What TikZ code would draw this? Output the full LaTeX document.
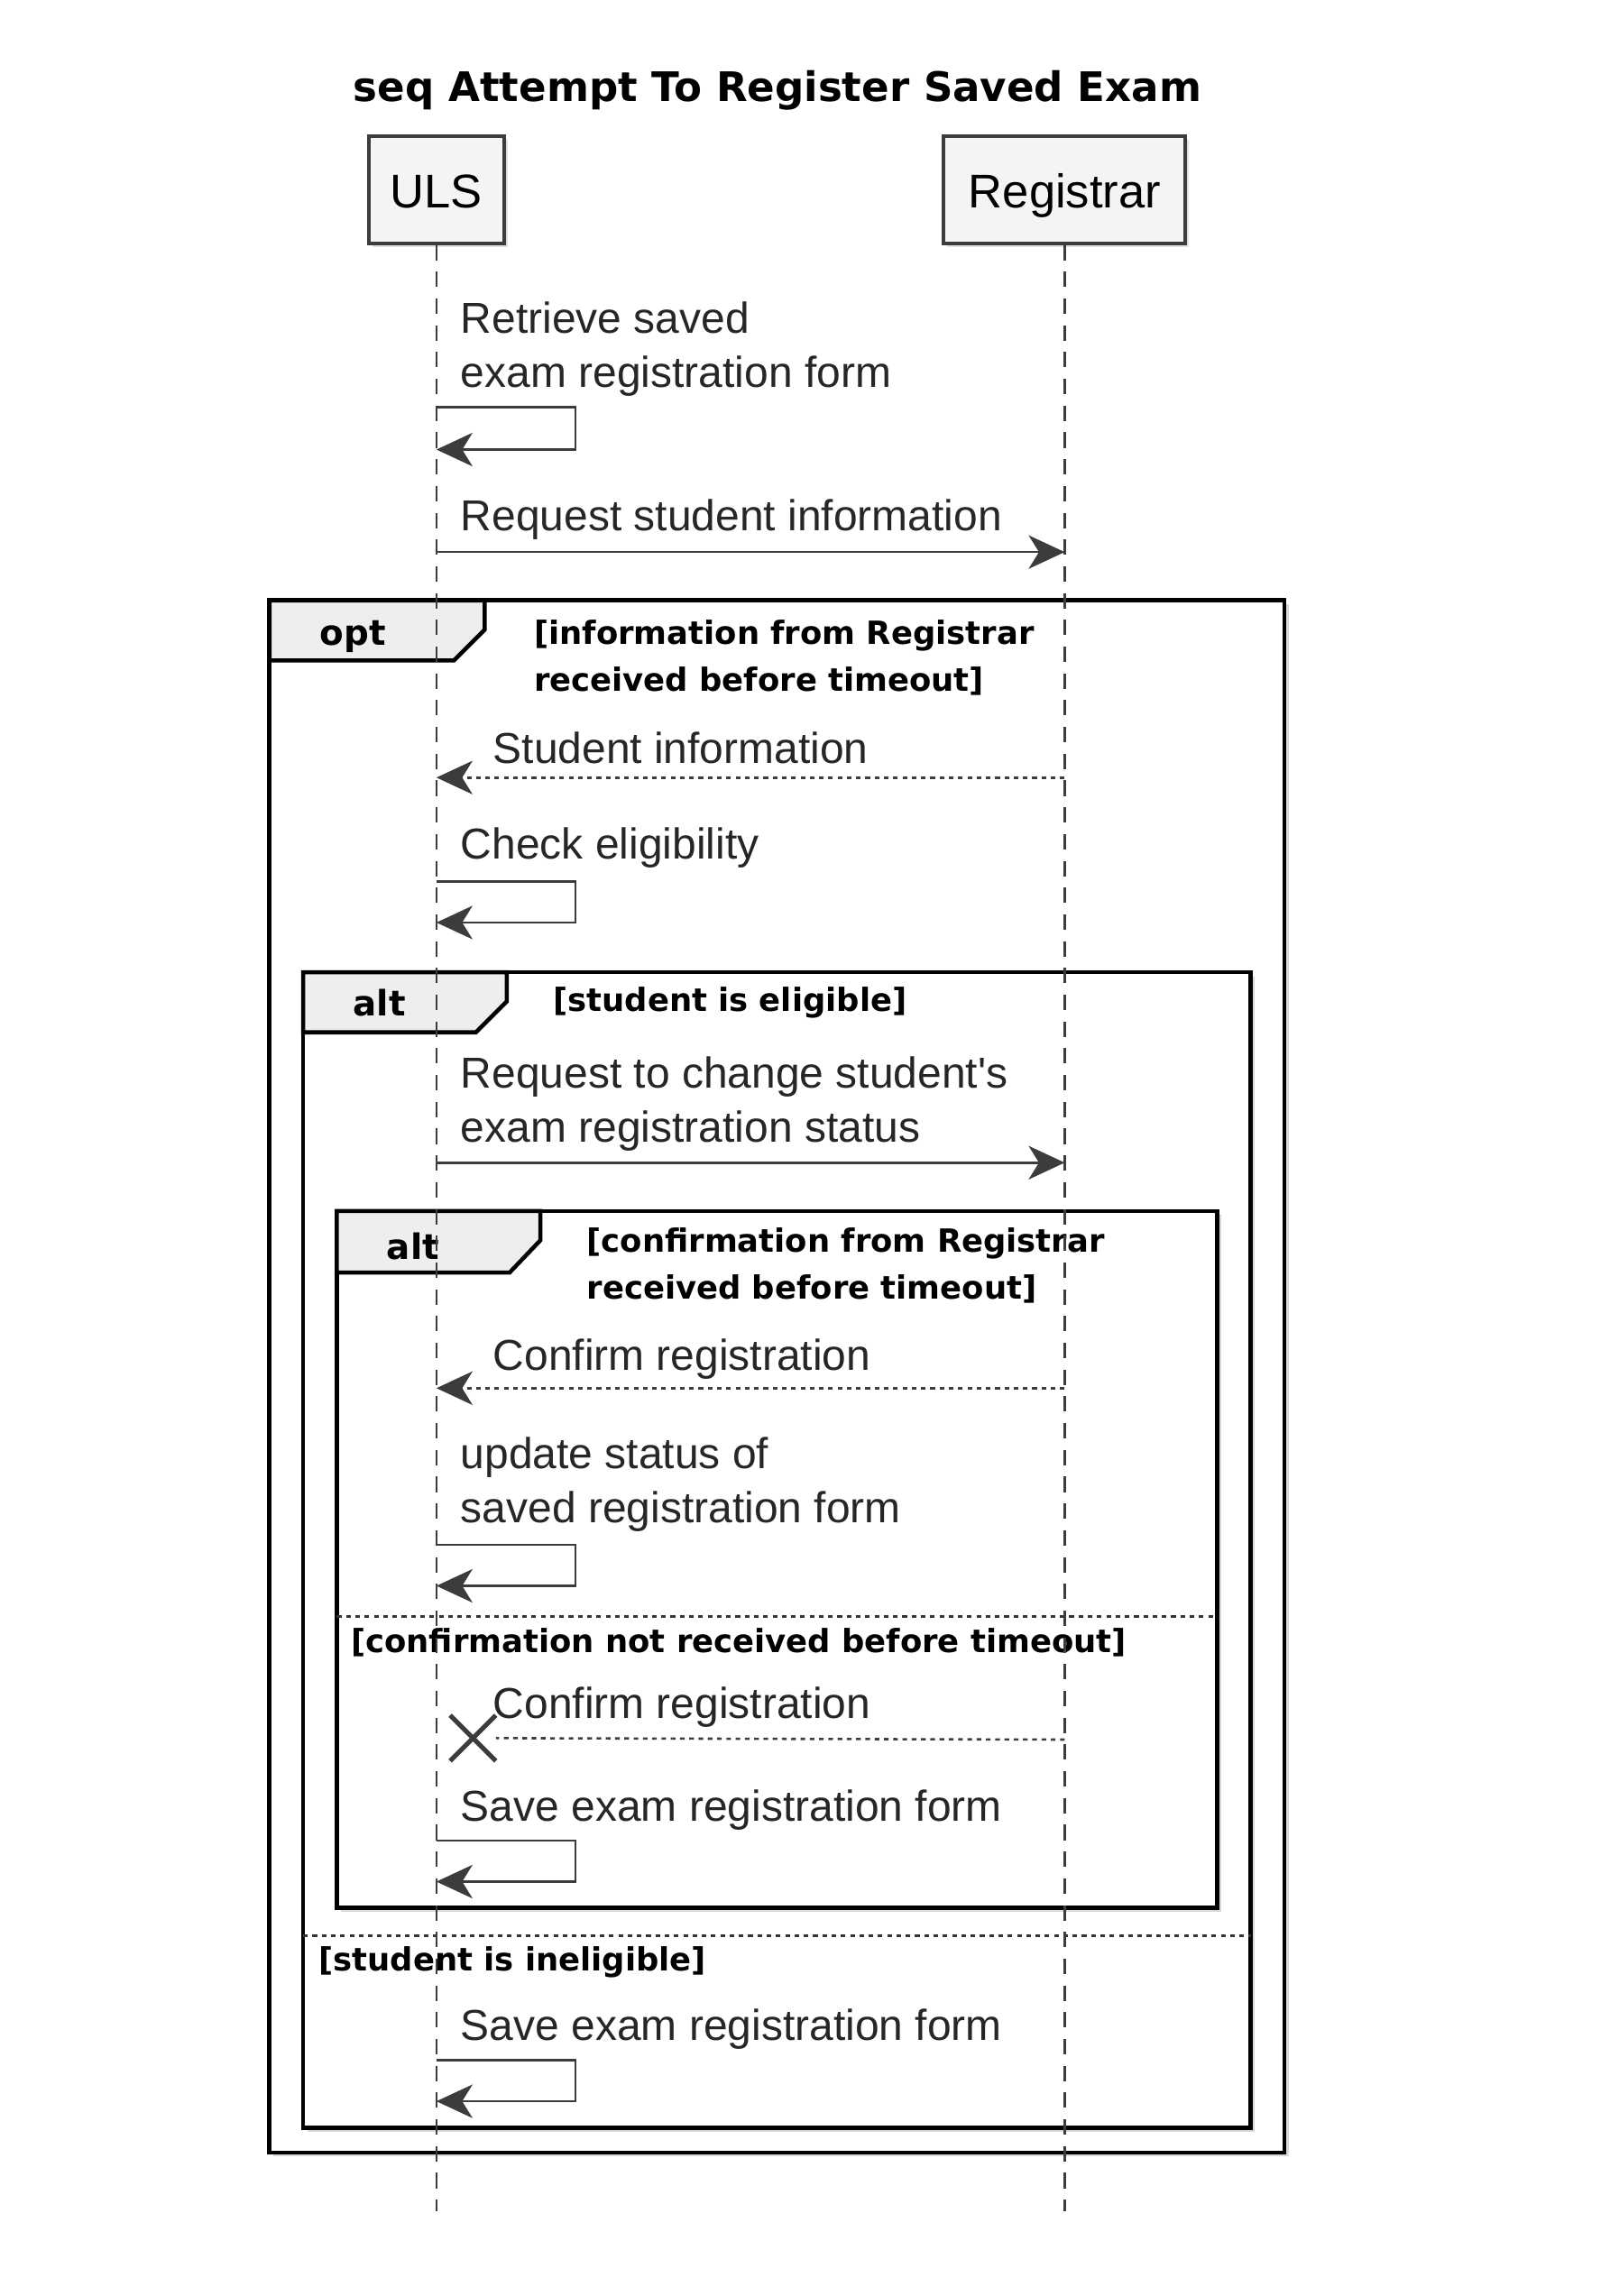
\documentclass[tikz,border=0pt]{standalone}
\usepackage{fontspec}
\setmainfont{Liberation Sans}[Ligatures=TeXOff]
\newfontfamily\guardfamily{DejaVu Sans}
\usetikzlibrary{arrows.meta,shadows,shapes.misc}

\newcommand{\msgsize}{\fontsize{8.4}{10.5}\selectfont}
\newcommand{\actorsize}{\fontsize{9.2}{11}\selectfont}
\newcommand{\guardsize}{\guardfamily\bfseries\fontsize{6.2}{9.1}\selectfont}
\newcommand{\tagsize}{\guardfamily\bfseries\fontsize{6.8}{8}\selectfont}
\newcommand{\titlesize}{\guardfamily\bfseries\fontsize{7.9}{9}\selectfont}

\definecolor{linegray}{HTML}{3C3C3C}
\definecolor{boxfill}{HTML}{F4F4F4}
\definecolor{tabfill}{HTML}{EEEEEE}

\tikzset{
  actor/.style={draw=linegray, fill=boxfill, line width=0.7pt, minimum height=0.73cm,
    inner sep=0pt, text height=0.716em, text depth=0pt, font=\actorsize,
    drop shadow={shadow xshift=0.7pt, shadow yshift=-0.7pt, opacity=0.25}},
  lifeline/.style={draw=linegray, line width=0.4pt, dash pattern=on 3pt off 2.2pt},
  msgline/.style={draw=linegray, line width=0.45pt, -{Stealth[length=7pt,width=6.5pt,inset=2pt]}},
  reply/.style={msgline, dash pattern=on 0.9pt off 0.9pt},
  msgtext/.style={anchor=west, inner sep=0pt, align=left, font=\msgsize, text=black!85},
  frame/.style={draw=black, line width=0.8pt, fill=white,
    drop shadow={shadow xshift=0.8pt, shadow yshift=-0.8pt, opacity=0.3}},
  tab/.style={draw=black, line width=0.8pt, fill=tabfill},
  tag/.style={inner sep=0pt, font=\tagsize},
  guard/.style={anchor=west, inner sep=0pt, align=left, font=\guardsize},
  elseline/.style={draw=black!80, line width=0.5pt, dash pattern=on 0.9pt off 0.9pt}
}

\begin{document}
\begin{tikzpicture}[x=0.01cm, y=-0.01cm]
  \useasboundingbox (0,0) rectangle (1099,1568);
  \newcommand{\ulsX}{298}
  \newcommand{\regX}{727}

  % title and participants
  \node[font=\titlesize] (title) at (531,62) {seq Attempt To Register Saved Exam};
  \node[actor, minimum width=0.92cm] (uls) at (\ulsX,129.5) {ULS};
  \node[actor, minimum width=1.65cm] (reg) at (\regX,129.5) {Registrar};

  % opt frame
  \draw[frame] (184,410) rectangle (877,1470);
  \draw[tab] (184,410) -- (331,410) -- (331,430) -- (310,451) -- (184,451) -- cycle;
  \node[tag] (opttag) at (241,435) {opt};
  \node[guard] (optguard) at (364,449) {[information from Registrar\\received before timeout]};

  % outer alt frame
  \draw[frame] (207,664) rectangle (854,1453);
  \draw[tab] (207,664) -- (346,664) -- (346,684) -- (325,705) -- (207,705) -- cycle;
  \node[tag] (alttag) at (259,685) {alt};
  \node[guard] (eligible) at (377,685) {[student is eligible]};
  \draw[elseline] (207,1322) -- (854,1322);
  \node[guard] (ineligible) at (217,1340) {[student is ineligible]};

  % inner alt frame
  \draw[frame] (230,827) rectangle (831,1303);
  \draw[tab] (230,827) -- (369,827) -- (369,847) -- (348,869) -- (230,869) -- cycle;
  \node[tag] (innertag) at (282,851) {alt};
  \node[guard] (confguard) at (400,864) {[confirmation from Registrar\\received before timeout]};
  \draw[elseline] (230,1104) -- (831,1104);
  \node[guard] (noconf) at (239,1122) {[confirmation not received before timeout]};

  % lifelines
  \coordinate (ulsend) at (\ulsX,1510);
  \coordinate (regend) at (\regX,1510);
  \draw[lifeline] (uls) -- (ulsend);
  \draw[lifeline] (reg) -- (regend);

  % messages
  \node[msgtext] (retrieve) at (314,238.5) {Retrieve saved\\exam registration form};
  \coordinate (u1a) at (\ulsX,278);
  \coordinate (u1b) at (\ulsX,307);
  \draw[msgline] (u1a) -- ++(95,0) |- (u1b);

  \node[msgtext] (request) at (314,355) {Request student information};
  \coordinate (u2) at (\ulsX,377);
  \coordinate (r2) at (\regX,377);
  \draw[msgline] (u2) -- (r2);

  \node[msgtext] (studinfo) at (336,511) {Student information};
  \coordinate (r3) at (\regX,531);
  \coordinate (u3) at (\ulsX,531);
  \draw[reply] (r3) -- (u3);

  \node[msgtext] (check) at (314,579) {Check eligibility};
  \coordinate (u4a) at (\ulsX,602);
  \coordinate (u4b) at (\ulsX,630);
  \draw[msgline] (u4a) -- ++(95,0) |- (u4b);

  \node[msgtext] (change) at (314,754) {Request to change student's\\exam registration status};
  \coordinate (u5) at (\ulsX,794);
  \coordinate (r5) at (\regX,794);
  \draw[msgline] (u5) -- (r5);

  \node[msgtext] (confirm) at (336,928) {Confirm registration};
  \coordinate (r6) at (\regX,948);
  \coordinate (u6) at (\ulsX,948);
  \draw[reply] (r6) -- (u6);

  \node[msgtext] (update) at (314,1014) {update status of\\saved registration form};
  \coordinate (u7a) at (\ulsX,1055);
  \coordinate (u7b) at (\ulsX,1083);
  \draw[msgline] (u7a) -- ++(95,0) |- (u7b);

  \node[msgtext] (lostconfirm) at (336,1166) {Confirm registration};
  \coordinate (r8) at (\regX,1188);
  \node[cross out, draw=linegray, line width=0.9pt, minimum size=0.28cm, inner sep=0pt] (lost) at (323,1187) {};
  \draw[reply, -] (r8) -- (lost.east);

  \node[msgtext] (save) at (314,1236) {Save exam registration form};
  \coordinate (u9a) at (\ulsX,1257);
  \coordinate (u9b) at (\ulsX,1285);
  \draw[msgline] (u9a) -- ++(95,0) |- (u9b);

  \node[msgtext] (saveelse) at (314,1386) {Save exam registration form};
  \coordinate (u10a) at (\ulsX,1407);
  \coordinate (u10b) at (\ulsX,1435);
  \draw[msgline] (u10a) -- ++(95,0) |- (u10b);
\end{tikzpicture}
\end{document}
